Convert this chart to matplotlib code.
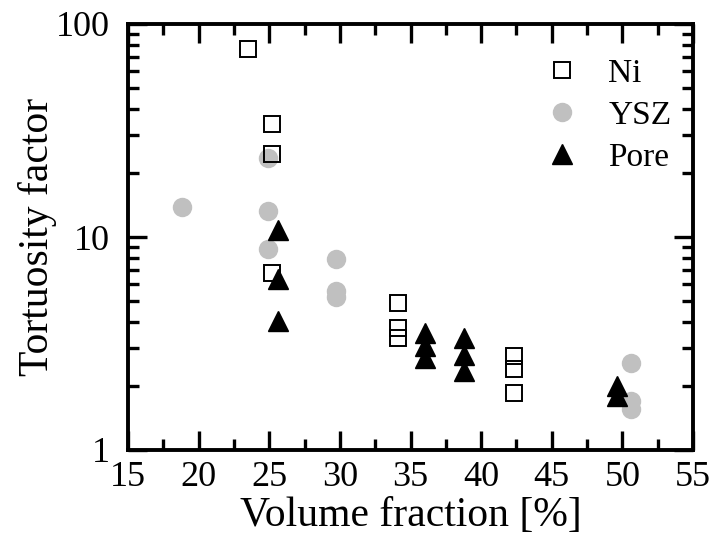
import numpy as np
import matplotlib.pyplot as plt
from matplotlib.ticker import MultipleLocator, LogLocator, NullFormatter, FixedLocator

plt.rcParams['font.family'] = ['Liberation Serif', 'DejaVu Serif']

# Ni
ni_x = [23.5, 25.2, 25.2, 25.2, 34.1, 34.1, 34.1, 42.3, 42.3, 42.3]
ni_y = [76.4, 34.0, 24.6, 6.75, 4.88, 3.73, 3.35, 2.76, 2.40, 1.85]
# YSZ
ysz_x = [18.8, 24.9, 24.9, 24.9, 29.7, 29.7, 29.7, 50.6, 50.6, 50.6]
ysz_y = [13.9, 23.6, 13.2, 8.74, 7.85, 5.55, 5.21, 2.56, 1.70, 1.56]
# Pore
pore_x = [25.6, 25.6, 25.6, 36.0, 36.0, 36.0, 38.8, 38.8, 38.8, 49.6, 49.6]
pore_y = [10.8, 6.32, 4.02, 3.53, 3.07, 2.70, 3.35, 2.79, 2.34, 1.99, 1.79]

x_ticks = [15, 20, 25, 30, 35, 40, 45, 50, 55]

fig = plt.figure(figsize=(7.17, 5.45), dpi=100)
ax = fig.add_axes([128/717, 1 - 450/545, (693 - 128)/717, (450 - 24)/545])

ax.plot(ysz_x, ysz_y, 'o', ms=14, color='#c0c0c0', mec='none', label='YSZ', zorder=2)
ax.plot(ni_x, ni_y, 's', ms=12, mfc='none', mec='black', mew=1.4, label='Ni', zorder=3)
ax.plot(pore_x, pore_y, '^', ms=15, color='black', label='Pore', zorder=4)

ax.set_yscale('log')
ax.set_xlim(15, 55)
ax.set_ylim(1, 100)
ax.xaxis.set_major_locator(FixedLocator(x_ticks))
ax.xaxis.set_minor_locator(MultipleLocator(2.5))
ax.yaxis.set_major_locator(FixedLocator([1, 10, 100]))
ax.yaxis.set_minor_locator(LogLocator(base=10, subs=np.arange(2, 10)))
ax.yaxis.set_minor_formatter(NullFormatter())
ax.set_yticklabels(['1', '10', '100'])

ax.tick_params(which='both', direction='in', top=True, right=True, width=2.4, labelsize=26)
ax.tick_params(axis='x', pad=8)
ax.tick_params(axis='y', pad=13)
ax.tick_params(which='major', length=14)
ax.tick_params(which='minor', length=8)
for s in ax.spines.values():
    s.set_linewidth(2.8)

ax.set_xlabel('Volume fraction [%]', fontsize=30, labelpad=2)
ax.set_ylabel('Tortuosity factor', fontsize=30, labelpad=-1)

h, l = ax.get_legend_handles_labels()
order = [1, 0, 2]
ax.legend([h[i] for i in order], [l[i] for i in order], loc='upper right',
          bbox_to_anchor=(1.015, 0.99), frameon=False, fontsize=24,
          handletextpad=0.8, labelspacing=0.35, handlelength=1.2)

fig.savefig('out.png', dpi=100)
